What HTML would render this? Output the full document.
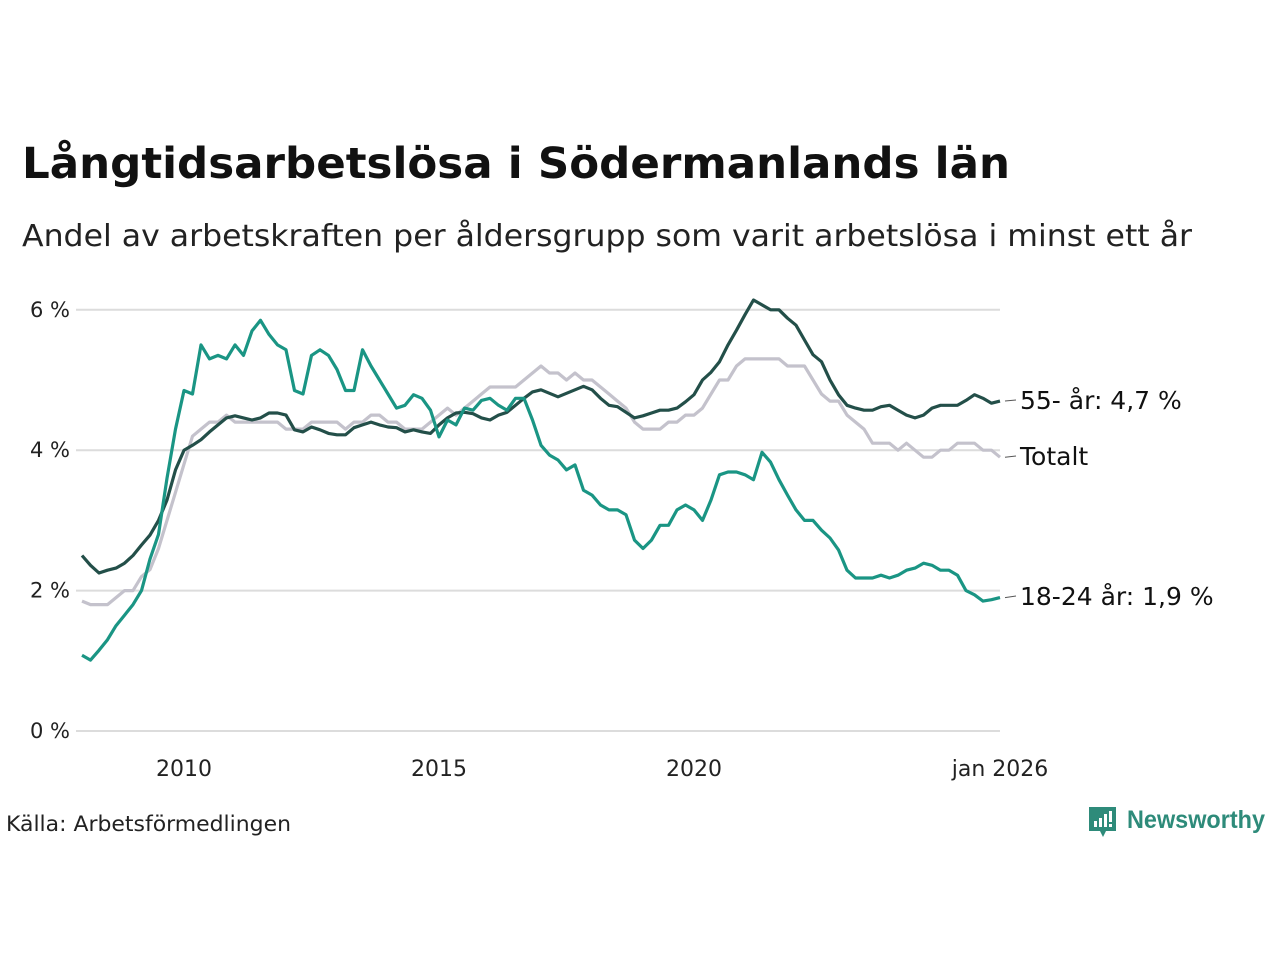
<!DOCTYPE html>
<html><head><meta charset="utf-8"><style>
body{margin:0;background:#fff;width:1280px;height:960px;overflow:hidden;font-family:"Liberation Sans","DejaVu Sans",sans-serif;}
</style></head><body>
<svg width="1280" height="960" font-family="'DejaVu Sans','Liberation Sans',sans-serif">
<text x="22" y="178" font-size="43" font-weight="bold" fill="#111" textLength="988" lengthAdjust="spacingAndGlyphs">Långtidsarbetslösa i Södermanlands län</text>
<text x="22" y="246" font-size="30" fill="#222" textLength="1170" lengthAdjust="spacingAndGlyphs">Andel av arbetskraften per åldersgrupp som varit arbetslösa i minst ett år</text>
<g id="grid"></g>
<g id="series"></g>
<g id="labels"></g>
<text x="6" y="831" font-size="21" fill="#222" textLength="285" lengthAdjust="spacingAndGlyphs">Källa: Arbetsförmedlingen</text>
<g>
<path d="M1089 807h27v24h-10l-3 6-3-6h-11z" fill="#2e8b7a"/>
<rect x="1094" y="821" width="3" height="6" fill="#fff"/><rect x="1099" y="818" width="3" height="9" fill="#fff"/><rect x="1104" y="814" width="3" height="13" fill="#fff"/><rect x="1109" y="811" width="3" height="11" fill="#fff"/><rect x="1109" y="824" width="3" height="3" fill="#fff"/>
<text x="1127" y="828" font-size="25" font-weight="bold" fill="#2e8b7a" textLength="138" lengthAdjust="spacingAndGlyphs" font-family="'Liberation Sans',sans-serif">Newsworthy</text>
</g>
</svg>
<script>
const months=[];for(let m=0;m<=216;m+=2)months.push(m);
const yTicks=[0,2,4,6];
const yTickLabels=["0 %","2 %","4 %","6 %"];
const xTicks=[24,84,144,216];
const xTickLabels=["2010","2015","2020","jan 2026"];
const seriesNames=["Totalt","55- år","18-24 år"];
const totalt=[1.85,1.8,1.8,1.8,1.9,2.0,2.0,2.2,2.3,2.6,3.0,3.4,3.8,4.2,4.3,4.4,4.4,4.5,4.4,4.4,4.4,4.4,4.4,4.4,4.3,4.3,4.3,4.4,4.4,4.4,4.4,4.3,4.4,4.4,4.5,4.5,4.4,4.4,4.3,4.3,4.3,4.4,4.5,4.6,4.5,4.6,4.7,4.8,4.9,4.9,4.9,4.9,5.0,5.1,5.2,5.1,5.1,5.0,5.1,5.0,5.0,4.9,4.8,4.7,4.6,4.4,4.3,4.3,4.3,4.4,4.4,4.5,4.5,4.6,4.8,5.0,5.0,5.2,5.3,5.3,5.3,5.3,5.3,5.2,5.2,5.2,5.0,4.8,4.7,4.7,4.5,4.4,4.3,4.1,4.1,4.1,4.0,4.1,4.0,3.9,3.9,4.0,4.0,4.1,4.1,4.1,4.0,4.0,3.9];
const age55=[2.5,2.36,2.25,2.29,2.32,2.39,2.5,2.65,2.79,3.0,3.29,3.72,4.0,4.07,4.15,4.26,4.36,4.46,4.49,4.46,4.43,4.46,4.53,4.53,4.5,4.29,4.26,4.33,4.29,4.24,4.22,4.22,4.32,4.36,4.4,4.36,4.33,4.32,4.26,4.29,4.26,4.24,4.36,4.46,4.53,4.54,4.52,4.46,4.43,4.5,4.54,4.64,4.74,4.83,4.86,4.81,4.76,4.81,4.86,4.91,4.86,4.74,4.64,4.62,4.54,4.46,4.49,4.53,4.57,4.57,4.6,4.69,4.79,5.0,5.11,5.26,5.5,5.71,5.93,6.14,6.07,6.0,6.0,5.88,5.78,5.57,5.36,5.26,5.0,4.79,4.64,4.6,4.57,4.57,4.62,4.64,4.57,4.5,4.46,4.5,4.6,4.64,4.64,4.64,4.71,4.79,4.74,4.67,4.7];
const age1824=[1.08,1.01,1.15,1.3,1.5,1.65,1.8,2.0,2.45,2.8,3.6,4.3,4.85,4.8,5.5,5.3,5.35,5.3,5.5,5.35,5.7,5.85,5.65,5.5,5.43,4.85,4.8,5.35,5.43,5.35,5.15,4.85,4.85,5.43,5.2,5.0,4.8,4.6,4.64,4.79,4.74,4.57,4.19,4.43,4.36,4.6,4.57,4.71,4.74,4.64,4.57,4.74,4.74,4.43,4.07,3.93,3.86,3.72,3.79,3.43,3.36,3.22,3.15,3.15,3.08,2.72,2.6,2.72,2.93,2.93,3.15,3.22,3.15,3.0,3.29,3.65,3.69,3.69,3.65,3.58,3.97,3.83,3.58,3.36,3.15,3.0,3.0,2.86,2.75,2.58,2.29,2.18,2.18,2.18,2.22,2.18,2.22,2.29,2.32,2.39,2.36,2.29,2.29,2.22,2.0,1.94,1.85,1.87,1.9];
const endLabels=["Totalt","55- år: 4,7 %","18-24 år: 1,9 %"];

const NS="http://www.w3.org/2000/svg";
const X=m=>82+m*(918/216);
const Y=v=>731-v*70.2;
function mk(tag,attrs,parent){const e=document.createElementNS(NS,tag);for(const k in attrs)e.setAttribute(k,attrs[k]);parent.appendChild(e);return e;}
const grid=document.getElementById('grid');
yTicks.forEach((t,i)=>{
  const l=mk('line',{x1:76,x2:1000,y1:Y(t),y2:Y(t),stroke:'#dcdcdc','stroke-width':2},grid);
  
  
  const tx=mk('text',{x:70,y:Y(t)+7,'font-size':21,'text-anchor':'end',fill:'#222'},grid);
  tx.textContent=yTickLabels[i];
  
  
});
xTicks.forEach((m,i)=>{
  const tx=mk('text',{x:X(m),y:776,'font-size':22,'text-anchor':'middle',fill:'#222'},grid);
  tx.textContent=xTickLabels[i];
  
  
});
const sg=document.getElementById('series');
const cols=['#c4c2cc','#234f49','#1a9584'];
[totalt,age55,age1824].forEach((s,i)=>{
  const d=s.map((v,j)=>(j?'L':'M')+X(months[j]).toFixed(1)+' '+Y(v).toFixed(1)).join('');
  const p=mk('path',{d:d,fill:'none',stroke:cols[i],'stroke-width':3.2,'stroke-linejoin':'round'},sg);
  
  
});
const lg=document.getElementById('labels');
const labY=[457,401,597];
[totalt,age55,age1824].forEach((s,i)=>{
  const yv=Y(s[s.length-1]);
  mk('line',{x1:1005,x2:1016,y1:yv,y2:labY[i]-1,stroke:'#555','stroke-width':1},lg);
  const t=mk('text',{x:1020,y:labY[i]+8,'font-size':25,fill:'#111'},lg);
  t.textContent=endLabels[i];
  
  
});
</script>
</body></html>
